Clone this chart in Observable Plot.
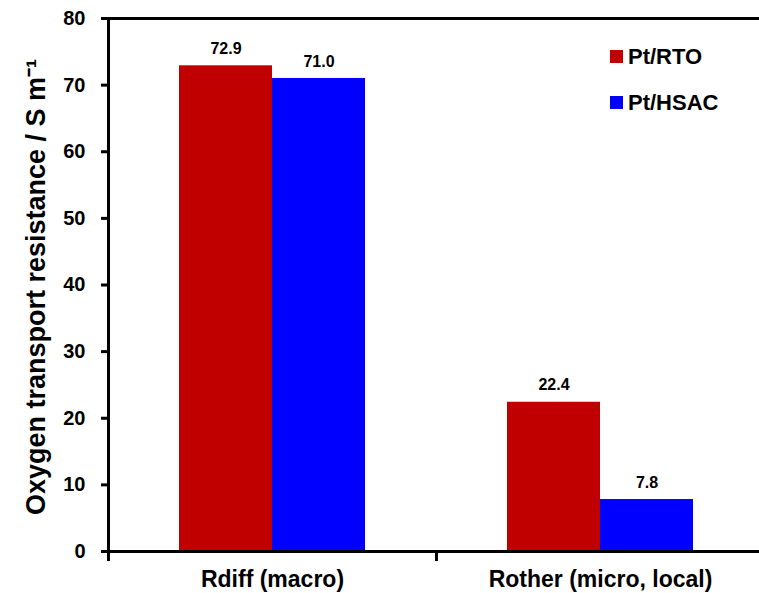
<!DOCTYPE html>
<html>
<head>
<meta charset="utf-8">
<script src="https://cdn.jsdelivr.net/npm/d3@7"></script>
<script src="https://cdn.jsdelivr.net/npm/@observablehq/plot@0.6"></script>
<style>
  html, body { margin: 0; padding: 0; background: #fff; }
  #wrap { position: relative; width: 759px; height: 593px; overflow: hidden; font-family: "Liberation Sans", Arial, sans-serif; }
  .legend { position: absolute; left: 610px; top: 44px; font-weight: bold; font-size: 22px; color: #000; }
  .legend .item { display: flex; align-items: center; height: 25px; margin-bottom: 21px; }
  .legend .sw { width: 13px; height: 13px; margin-right: 5px; }
</style>
</head>
<body>
<div id="wrap"></div>
<script>
const categories = ["Rdiff (macro)", "Rother (micro, local)"];
const series = ["Pt/RTO", "Pt/HSAC"];
const rtoValues = [72.9, 22.4];
const hsacValues = [71.0, 7.8];
const seriesColors = ["#C00000", "#0000FF"];
const yTicks = [0, 10, 20, 30, 40, 50, 60, 70, 80];
const yLabel = "Oxygen transport resistance / S m\u207B\u00B9";

const data = categories.flatMap((c, i) => [
  {category: c, series: series[0], value: rtoValues[i]},
  {category: c, series: series[1], value: hsacValues[i]}
]);

const chart = Plot.plot({
  width: 759,
  height: 593,
  marginLeft: 107,
  marginRight: 0,
  marginTop: 18,
  marginBottom: 42,
  style: {fontFamily: "'Liberation Sans', Arial, sans-serif", fontWeight: "bold", color: "#000", background: "#fff", overflow: "visible"},
  fx: {domain: categories, range: [107, 764], padding: 0, label: null},
  x: {domain: series, paddingInner: 0, paddingOuter: 0.76, axis: null},
  y: {domain: [0, 80], axis: null},
  color: {domain: series, range: seriesColors},
  marks: [
    Plot.barY(data, {fx: "category", x: "series", y: "value", fill: "series"}),
    Plot.text(data, {fx: "category", x: "series", y: "value", text: d => d.value.toFixed(1), dy: -17, fontSize: 16, fontWeight: "bold", fill: "#000"}),
    Plot.ruleY([0], {stroke: "#000", strokeWidth: 3}),
    Plot.ruleY([80], {stroke: "#000", strokeWidth: 3}),
    Plot.frame({anchor: "left", facetAnchor: "left", stroke: "#000", strokeWidth: 3}),
    Plot.frame({anchor: "left", stroke: "#000", strokeWidth: 3, insetTop: 533, insetBottom: -8}),
    Plot.axisY({ticks: yTicks, tickSize: 7, tickPadding: 16, strokeWidth: 3, fontSize: 20, fontWeight: "bold", label: null, facetAnchor: "left"}),
    Plot.text([yLabel], {fx: () => categories[0], frameAnchor: "left", textAnchor: "middle", rotate: -90, dx: -72, dy: 2, fontSize: 27, fontWeight: "bold", fill: "#000"}),
    Plot.axisFx({anchor: "bottom", tickSize: 0, tickPadding: 19, fontSize: 23, fontWeight: "bold", label: null})
  ]
});

const wrap = document.getElementById("wrap");
wrap.appendChild(chart);

const legend = document.createElement("div");
legend.className = "legend";
series.forEach((s, i) => {
  const item = document.createElement("div");
  item.className = "item";
  const sw = document.createElement("div");
  sw.className = "sw";
  sw.style.background = seriesColors[i];
  const t = document.createElement("span");
  t.textContent = s;
  item.appendChild(sw);
  item.appendChild(t);
  legend.appendChild(item);
});
wrap.appendChild(legend);
</script>
</body>
</html>
